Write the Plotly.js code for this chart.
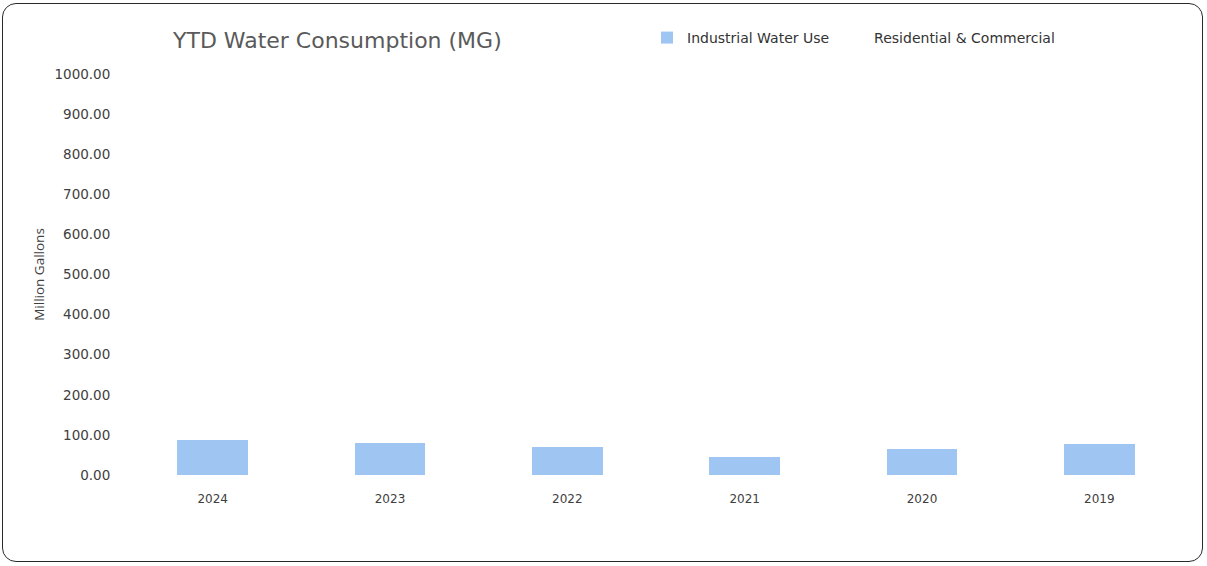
<!DOCTYPE html>
<html><head><meta charset="utf-8">
<script src="https://cdn.plot.ly/plotly-3.0.1.min.js"></script>
<style>
html,body{margin:0;padding:0;background:#fff;}
#wrap{position:relative;width:1207px;height:566px;}
#chart{width:1207px;height:566px;}
#frame{position:absolute;left:2px;top:3px;width:1199px;height:557px;border:1.6px solid #2a2a2a;border-radius:14px;pointer-events:none;}
</style></head>
<body><div id="wrap"><div id="chart"></div><div id="frame"></div></div>
<script>
const years = ["2024","2023","2022","2021","2020","2019"];
const industrial = [87, 80, 71, 45, 65, 77];
const residential = [null, null, null, null, null, null];
const yTicks = [0,100,200,300,400,500,600,700,800,900,1000];

const traces = [
  {type:"bar", name:"Industrial Water Use", x:years, y:industrial,
   marker:{color:"#9fc5f3"}, hoverinfo:"x+y"},
  {type:"bar", name:"Residential & Commercial", x:years, y:residential,
   marker:{color:"rgba(255,255,255,0)"}, hoverinfo:"x+y"}
];
const layout = {
  width:1207, height:566,
  margin:{l:124, r:19, t:74, b:91},
  paper_bgcolor:"#fff", plot_bgcolor:"#fff",
  barmode:"stack", bargap:0.6,
  font:{family:"Open Sans, sans-serif", size:12, color:"#404040"},
  title:{text:"YTD Water Consumption (MG)", x:173/1207, xanchor:"left", xref:"container", y:1-40/566, yanchor:"middle", yref:"container",
    font:{family:"DejaVu Sans, sans-serif", size:22, color:"#5a5a5a"}},
  xaxis:{type:"category", showgrid:false, zeroline:false, showline:false, ticks:"outside", ticklen:13, tickcolor:"rgba(0,0,0,0)",
    tickfont:{family:"DejaVu Sans, sans-serif", size:12, color:"#404040"}},
  yaxis:{range:[0,1000], tickvals:yTicks, tickformat:".2f", showgrid:false, zeroline:false, showline:false,
    ticks:"outside", ticklen:10, tickcolor:"rgba(0,0,0,0)", tickfont:{family:"DejaVu Sans, sans-serif", size:13.5, color:"#404040"},
    title:{text:"Million Gallons", standoff:6, font:{family:"Open Sans, sans-serif", size:13.5, color:"#404040"}}},
  legend:{orientation:"h", traceorder:"normal", x:647/1207, xanchor:"left", xref:"container", y:1-38/566, yanchor:"middle", yref:"container",
    font:{family:"DejaVu Sans, sans-serif", size:14, color:"#333"}, itemwidth:30},
  showlegend:true
};
Plotly.newPlot("chart", traces, layout, {displayModeBar:false, staticPlot:true});
</script></body></html>
